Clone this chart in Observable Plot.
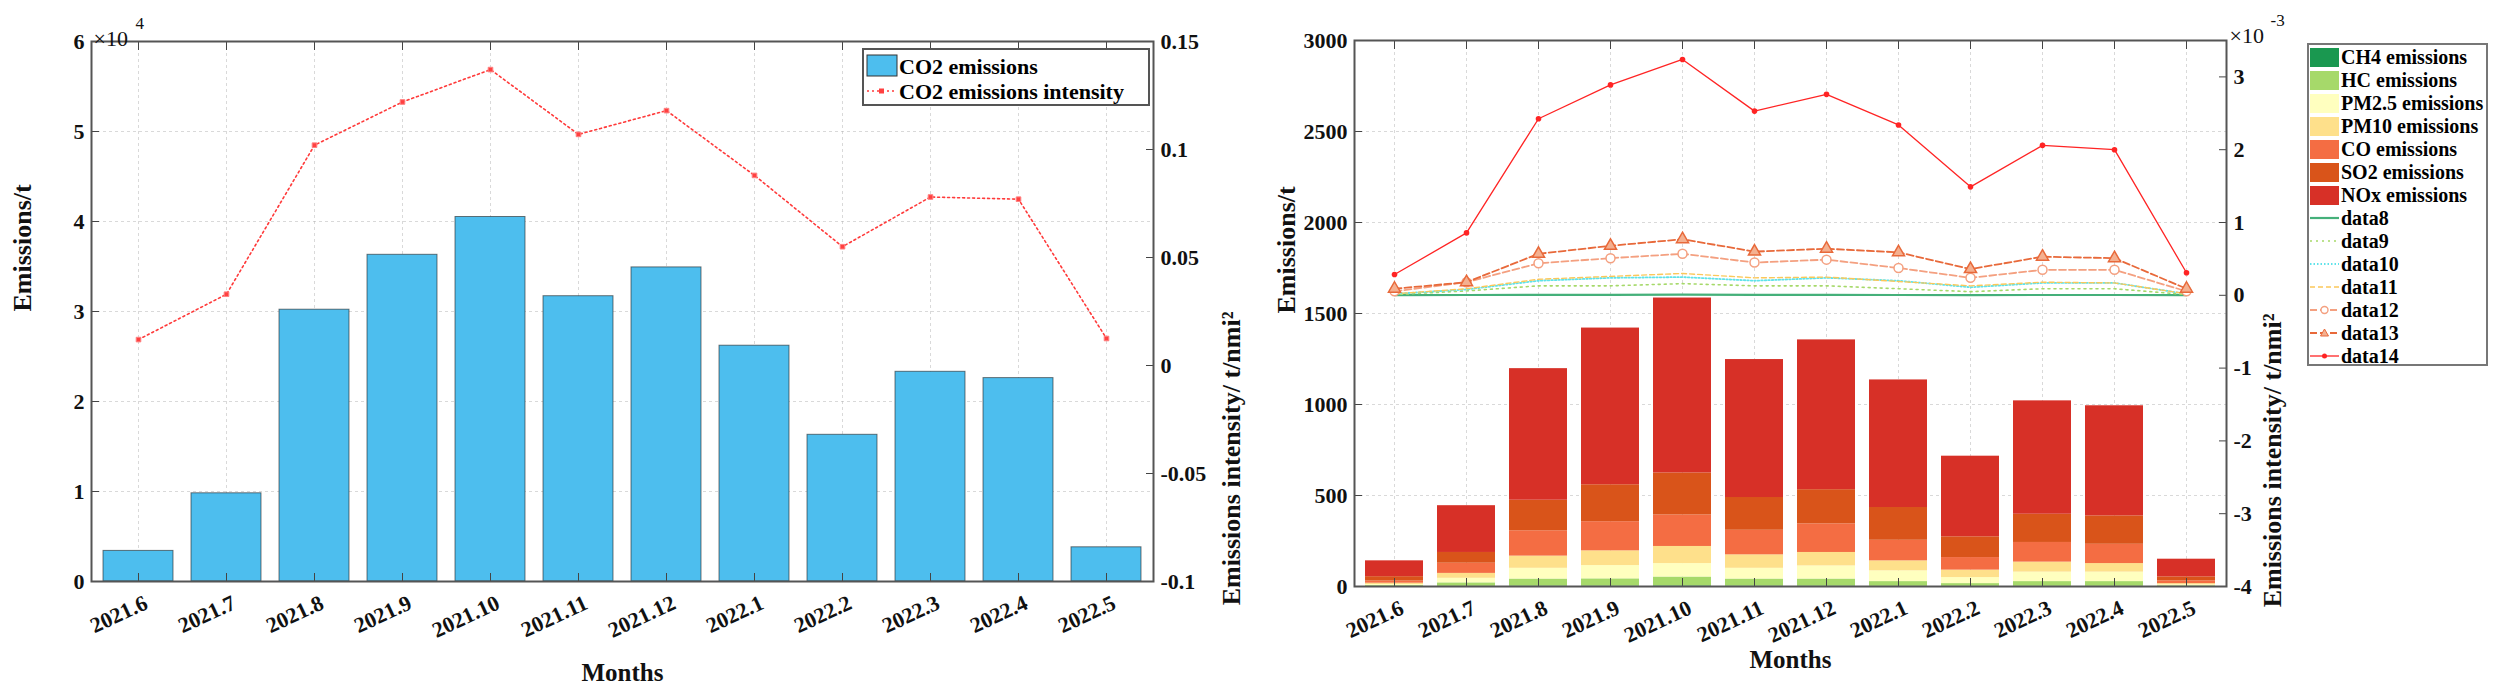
<!DOCTYPE html>
<html>
<head>
<meta charset="utf-8">
<script src="https://cdn.jsdelivr.net/npm/d3@7"></script>
<script src="https://cdn.jsdelivr.net/npm/@observablehq/plot@0.6"></script>
<style>
  body { margin: 0; background: #fff; }
  #wrap { position: relative; width: 2500px; height: 700px; overflow: hidden; background: #fff; }
  .chart, .legend { position: absolute; }
</style>
</head>
<body>
<div id="wrap">
  <div id="chart_left" class="chart" style="left:0;top:0"></div>
  <div id="chart_right" class="chart" style="left:1250px;top:0"></div>
</div>
<script>
const months = ["2021.6","2021.7","2021.8","2021.9","2021.10","2021.11","2021.12","2022.1","2022.2","2022.3","2022.4","2022.5"];

// left chart: CO2 (t) and CO2 intensity (t/nmi²)
const co2 = [3400, 9800, 30200, 36300, 40500, 31700, 34900, 26200, 16300, 23300, 22600, 3800];
const co2Intensity = [0.012, 0.033, 0.102, 0.122, 0.137, 0.107, 0.118, 0.088, 0.055, 0.078, 0.077, 0.0125];

// right chart: stacked pollutants (t)
const pollutants = ["CH4 emissions","HC emissions","PM2.5 emissions","PM10 emissions","CO emissions","SO2 emissions","NOx emissions"];
const pollutantColors = ["#1a9850","#a6d96a","#ffffbf","#fee08b","#f46d43","#d9541a","#d73027"];
const ch4  = [1, 1, 2, 2, 3, 2, 2, 1, 1, 1, 1, 0.5];
const hc   = [4, 19, 39, 40, 49, 39, 39, 26, 15, 26, 26, 3.5];
const pm25 = [6, 25, 59, 73, 74, 59, 72, 59, 33, 52, 52, 5];
const pm10 = [7, 27, 67, 81, 94, 74, 74, 55, 41, 55, 47, 7];
const co   = [12, 56, 139, 160, 173, 135, 157, 113, 69, 108, 106, 15];
const so2  = [24, 59, 168, 203, 231, 180, 188, 180, 114, 155, 156, 22];
const nox  = [87, 257, 723, 861, 961, 758, 823, 701, 443, 623, 605, 97];

// right chart: intensities (x10^-3 t/nmi²), data8 ... data14
const lineNames = ["data8","data9","data10","data11","data12","data13","data14"];
const ch4Int  = [0.003, 0.004, 0.007, 0.007, 0.009, 0.007, 0.007, 0.004, 0.003, 0.004, 0.004, 0.002];
const hcInt   = [0.01, 0.06, 0.13, 0.13, 0.16, 0.13, 0.13, 0.09, 0.05, 0.09, 0.09, 0.01];
const pm25Int = [0.02, 0.08, 0.20, 0.24, 0.25, 0.20, 0.24, 0.20, 0.11, 0.17, 0.17, 0.02];
const pm10Int = [0.02, 0.09, 0.22, 0.26, 0.30, 0.24, 0.25, 0.19, 0.13, 0.18, 0.17, 0.02];
const coInt   = [0.055, 0.18, 0.44, 0.51, 0.57, 0.45, 0.49, 0.375, 0.24, 0.35, 0.35, 0.055];
const so2Int  = [0.09, 0.18, 0.57, 0.68, 0.77, 0.60, 0.64, 0.59, 0.36, 0.53, 0.51, 0.09];
const noxInt  = [0.285, 0.857, 2.425, 2.89, 3.24, 2.53, 2.76, 2.34, 1.49, 2.06, 2.0, 0.31];

const leftTicks = [0, 10000, 20000, 30000, 40000, 50000, 60000];
const leftTicks2 = [-0.1, -0.05, 0, 0.05, 0.1, 0.15];
const rightTicks = [0, 500, 1000, 1500, 2000, 2500, 3000];
const rightTicks2 = [-4, -3, -2, -1, 0, 1, 2, 3];

const font = "Liberation Serif, Times New Roman, serif";
const gridStyle = {stroke: "#aaa", strokeOpacity: 0.45, strokeDasharray: "3,3"};

// rotated month labels, placed with the chart's own x scale
function addMonthLabels(chart, frameBottom) {
  const xs = chart.scale("x");
  const half = (xs.bandwidth || 0) / 2;
  d3.select(chart).append("g")
    .attr("font-family", font).attr("font-size", 22).attr("font-weight", "bold").attr("fill", "#111")
    .selectAll("text").data(months).join("text")
    .attr("transform", d => `translate(${xs.apply(d) + half + 8},${frameBottom + 20}) rotate(-25)`)
    .attr("text-anchor", "end").attr("dy", "0.35em")
    .text(d => d);
}

// ---------- left chart ----------
const yL2 = d3.scaleLinear([-0.1, 0.15], [0, 60000]);
const co2Rows = months.map((m, i) => ({month: m, co2: co2[i], intensity: co2Intensity[i]}));

const chartL = Plot.plot({
  width: 1250, height: 700,
  marginLeft: 91, marginRight: 97, marginTop: 41, marginBottom: 119,
  style: {fontFamily: font, fontSize: "22px", fontWeight: "bold", color: "#111", background: "transparent", overflow: "visible"},
  x: {domain: months, paddingInner: 0.2, paddingOuter: 0.1},
  y: {domain: [0, 60000]},
  marks: [
    Plot.gridX(months, gridStyle),
    Plot.gridY(leftTicks, gridStyle),
    Plot.barY(co2Rows, {x: "month", y: "co2", fill: "#4DBEEE", stroke: "#222", strokeOpacity: 0.6, strokeWidth: 1}),
    Plot.line(co2Rows, {x: "month", y: d => yL2(d.intensity), stroke: "#ff3a3a", strokeWidth: 1.6, strokeDasharray: "2,3"}),
    Plot.dot(co2Rows, {x: "month", y: d => yL2(d.intensity), symbol: "square", r: 2.6, fill: "#ff4040", stroke: "#ff8080", strokeWidth: 1}),
    Plot.axisX({anchor: "bottom", tickSize: -8, tickFormat: () => "", label: null, stroke: "#444"}),
    Plot.axisX({anchor: "top", tickSize: -8, tickFormat: () => "", label: null, stroke: "#444"}),
    Plot.axisY(leftTicks, {anchor: "left", tickSize: -8, tickPadding: 15, tickFormat: d => String(d / 1e4), label: null, stroke: "#444"}),
    Plot.axisY(leftTicks2, {anchor: "right", y: yL2, tickSize: -8, tickPadding: 15, tickFormat: d => String(d), label: null, stroke: "#444"}),
    Plot.frame({stroke: "#555", strokeWidth: 2}),
    Plot.text(["Emissions/t"], {frameAnchor: "left", dx: -69, rotate: -90, fontSize: 26, fontWeight: "bold"}),
    Plot.text(["Emissions intensity/ t/nmi²"], {frameAnchor: "right", dx: 78, rotate: -90, fontSize: 26, fontWeight: "bold"}),
    Plot.text(["Months"], {frameAnchor: "bottom", dy: 99, fontSize: 25, fontWeight: "bold"}),
    Plot.text(["×10"], {frameAnchor: "top-left", dx: 2, dy: -11, textAnchor: "start", fontSize: 22, fontWeight: "normal"}),
    Plot.text(["4"], {frameAnchor: "top-left", dx: 44, dy: -25, textAnchor: "start", fontSize: 17, fontWeight: "normal"})
  ]
});
addMonthLabels(chartL, 581);
d3.select("#chart_left").append(() => chartL);

// ---------- right chart ----------
const yR2 = d3.scaleLinear([-4, 3.5], [0, 3000]);
const layers = [ch4, hc, pm25, pm10, co, so2, nox];
const stackRows = [];
pollutants.forEach((p, j) => months.forEach((m, i) => stackRows.push({month: m, pollutant: p, value: layers[j][i]})));

const intensities = [ch4Int, hcInt, pm25Int, pm10Int, coInt, so2Int, noxInt];
const lineStyles = [
  {stroke: "#45b07a", strokeWidth: 2.2, dash: null, symbol: null},
  {stroke: "#a6d96a", strokeWidth: 1.6, dash: "2,4", symbol: null},
  {stroke: "#5fe3ea", strokeWidth: 1.8, dash: "1.5,2", symbol: null},
  {stroke: "#fbc85a", strokeWidth: 1.4, dash: "5,3", symbol: null},
  {stroke: "#f4a080", strokeWidth: 1.8, dash: "7,3", symbol: "circle"},
  {stroke: "#e8693a", strokeWidth: 1.8, dash: "7,3", symbol: "triangle"},
  {stroke: "#ff2424", strokeWidth: 1.3, dash: null, symbol: "dot"}
];
const lineMarks = [];
intensities.forEach((vals, j) => {
  const rows = months.map((m, i) => ({month: m, v: vals[i]}));
  const s = lineStyles[j];
  lineMarks.push(Plot.line(rows, {x: "month", y: d => yR2(d.v), stroke: s.stroke, strokeWidth: s.strokeWidth, strokeDasharray: s.dash}));
  if (s.symbol === "circle") lineMarks.push(Plot.dot(rows, {x: "month", y: d => yR2(d.v), r: 4.5, stroke: s.stroke, strokeWidth: 1.5, fill: "white"}));
  if (s.symbol === "triangle") lineMarks.push(Plot.dot(rows, {x: "month", y: d => yR2(d.v), symbol: "triangle", r: 4.5, stroke: s.stroke, strokeWidth: 1.5, fill: "#f4b090"}));
  if (s.symbol === "dot") lineMarks.push(Plot.dot(rows, {x: "month", y: d => yR2(d.v), r: 2.8, fill: s.stroke}));
});

const chartR = Plot.plot({
  width: 1250, height: 700,
  marginLeft: 104, marginRight: 274, marginTop: 40, marginBottom: 114,
  style: {fontFamily: font, fontSize: "22px", fontWeight: "bold", color: "#111", background: "transparent", overflow: "visible"},
  x: {domain: months, paddingInner: 0.2, paddingOuter: 0.1},
  y: {domain: [0, 3000]},
  color: {domain: pollutants, range: pollutantColors},
  marks: [
    Plot.gridX(months, gridStyle),
    Plot.gridY(rightTicks, gridStyle),
    Plot.barY(stackRows, {x: "month", y: "value", fill: "pollutant", order: pollutants}),
    ...lineMarks,
    Plot.axisX({anchor: "bottom", tickSize: -8, tickFormat: () => "", label: null, stroke: "#444"}),
    Plot.axisX({anchor: "top", tickSize: -8, tickFormat: () => "", label: null, stroke: "#444"}),
    Plot.axisY(rightTicks, {anchor: "left", tickSize: -8, tickPadding: 15, tickFormat: d => String(d), label: null, stroke: "#444"}),
    Plot.axisY(rightTicks2, {anchor: "right", y: yR2, tickSize: -8, tickPadding: 15, tickFormat: d => String(d), label: null, stroke: "#444"}),
    Plot.frame({stroke: "#555", strokeWidth: 2}),
    Plot.text(["Emissions/t"], {frameAnchor: "left", dx: -68, rotate: -90, fontSize: 26, fontWeight: "bold"}),
    Plot.text(["Emissions intensity/ t/nmi²"], {frameAnchor: "right", dx: 46, rotate: -90, fontSize: 26, fontWeight: "bold"}),
    Plot.text(["Months"], {frameAnchor: "bottom", dy: 81, fontSize: 25, fontWeight: "bold"}),
    Plot.text(["×10"], {frameAnchor: "top-right", dx: 3, dy: -13, textAnchor: "start", fontSize: 22, fontWeight: "normal"}),
    Plot.text(["-3"], {frameAnchor: "top-right", dx: 44, dy: -27, textAnchor: "start", fontSize: 17, fontWeight: "normal"})
  ]
});
addMonthLabels(chartR, 586);
d3.select("#chart_right").append(() => chartR);

// ---------- legends ----------
const wrap = d3.select("#wrap");

const legL = wrap.append("svg").attr("class", "legend")
  .style("left", "862px").style("top", "48px")
  .attr("width", 289).attr("height", 59)
  .style("font-family", font).style("font-weight", "bold").style("font-size", "22px");
legL.append("rect").attr("x", 1).attr("y", 1).attr("width", 286).attr("height", 56)
  .attr("fill", "white").attr("stroke", "#555").attr("stroke-width", 2);
legL.append("rect").attr("x", 5).attr("y", 7).attr("width", 30).attr("height", 21)
  .attr("fill", "#4DBEEE").attr("stroke", "#333").attr("stroke-width", 1);
legL.append("text").attr("x", 37).attr("y", 18).attr("dy", "0.35em").text("CO2 emissions");
legL.append("line").attr("x1", 5).attr("x2", 35).attr("y1", 43).attr("y2", 43)
  .attr("stroke", "#ff3a3a").attr("stroke-width", 1.6).attr("stroke-dasharray", "2,3");
legL.append("rect").attr("x", 17).attr("y", 40.5).attr("width", 5).attr("height", 5).attr("fill", "#ff4040");
legL.append("text").attr("x", 37).attr("y", 43).attr("dy", "0.35em").text("CO2 emissions intensity");

const legR = wrap.append("svg").attr("class", "legend")
  .style("left", "2307px").style("top", "43px")
  .attr("width", 182).attr("height", 324)
  .style("font-family", font).style("font-weight", "bold").style("font-size", "20px");
legR.append("rect").attr("x", 1).attr("y", 1).attr("width", 179).attr("height", 321)
  .attr("fill", "white").attr("stroke", "#777").attr("stroke-width", 2);
const rowY = i => 14 + 23 * i;
pollutants.forEach((p, i) => {
  legR.append("rect").attr("x", 3).attr("y", rowY(i) - 9).attr("width", 29).attr("height", 19).attr("fill", pollutantColors[i]);
  legR.append("text").attr("x", 34).attr("y", rowY(i)).attr("dy", "0.35em").text(p);
});
lineNames.forEach((n, j) => {
  const i = j + 7, s = lineStyles[j], y = rowY(i);
  legR.append("line").attr("x1", 3).attr("x2", 32).attr("y1", y).attr("y2", y)
    .attr("stroke", s.stroke).attr("stroke-width", s.strokeWidth).attr("stroke-dasharray", s.dash);
  if (s.symbol === "circle") legR.append("circle").attr("cx", 17.5).attr("cy", y).attr("r", 3.5).attr("fill", "white").attr("stroke", s.stroke).attr("stroke-width", 1.4);
  if (s.symbol === "triangle") legR.append("path").attr("d", `M17.5,${y - 4}L21.5,${y + 3}L13.5,${y + 3}Z`).attr("fill", "#f4b090").attr("stroke", s.stroke);
  if (s.symbol === "dot") legR.append("circle").attr("cx", 17.5).attr("cy", y).attr("r", 2.5).attr("fill", s.stroke);
  legR.append("text").attr("x", 34).attr("y", y).attr("dy", "0.35em").text(n);
});
</script>
</body>
</html>
